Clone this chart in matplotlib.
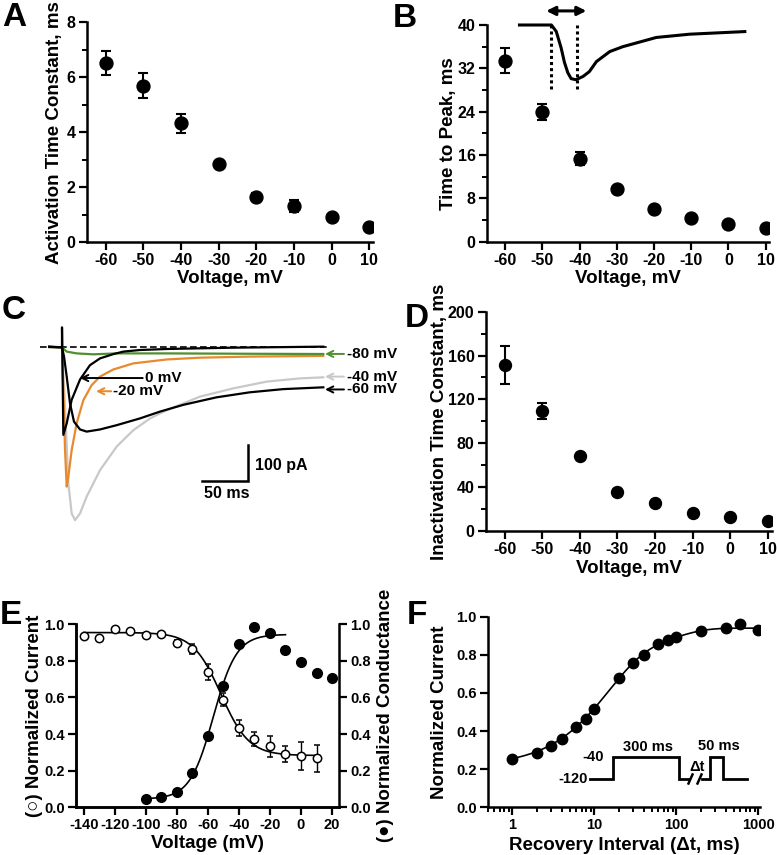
import matplotlib
matplotlib.use('Agg')
import numpy as np
import matplotlib.pyplot as plt
from matplotlib.ticker import MultipleLocator, LogLocator, NullFormatter, FixedLocator, FormatStrFormatter

plt.rcParams.update({
    'font.family': ['Liberation Sans', 'DejaVu Sans'],
    'font.weight': 'bold',
    'axes.labelweight': 'bold',
    'axes.linewidth': 1.8,
    'axes.unicode_minus': False,
})

# ---- data ----
volt = [-60, -50, -40, -30, -20, -10, 0, 10]
act_tau = [6.52, 5.70, 4.33, 2.84, 1.66, 1.32, 0.91, 0.57]
act_tau_err = [0.42, 0.46, 0.34, 0.12, 0.12, 0.22, 0.08, 0.06]
time_to_peak = [33.4, 23.9, 15.3, 9.75, 5.95, 4.42, 3.31, 2.58]
time_to_peak_err = [2.3, 1.5, 1.2, 0.4, 0.3, 0.3, 0.3, 0.2]
inact_tau = [151.5, 109.3, 68.1, 36.0, 25.3, 16.2, 13.1, 9.2]
inact_tau_err = [17.5, 7.3, 2.5, 1.5, 1.5, 1.2, 1.0, 1.0]

# schematic current trace in B (voltage-axis units)
b_trace_x = [-56.6, -47.6, -46.3, -45.0, -44.1, -43.2, -42.3, -41.0, -39.1, -37.4,
             -35.5, -31.9, -28.4, -19.4, -10.5, 4.8]
b_trace_y = [40, 40, 38.8, 35.8, 33.1, 31.2, 30.1, 29.9, 30.5, 31.4,
             33.25, 35.1, 36.0, 37.7, 38.3, 38.8]

# current traces in C (ms, pA)
tr_0mv_t = [-14, 0, 0, 1.45, 5.1, 10.5, 19.6, 30.4, 41.3, 55.8, 66.7, 84.8, 113.8, 150, 186, 284]
tr_0mv_i = [2, 0, 56, -245, -213, -147, -90, -50, -31, -19, -12, -7.5, -4.7, -2.8, -1, 1.9]
tr_20mv_t = [-14, 0, 1.45, 3.3, 5.1, 6.9, 10.5, 15.9, 23.2, 32.2, 41.3, 55.8, 77.5, 113.8, 150, 204, 284]
tr_20mv_i = [1, 0, -120, -288, -390, -362, -288, -213, -148, -106, -82, -62, -45, -34, -29, -26, -24]
tr_40mv_t = [-14, 0, 3.3, 6.9, 10.5, 14.1, 19.6, 26.8, 41.3, 59.4, 77.5, 95.7, 113.8, 150, 186, 222.5, 258.7, 284]
tr_40mv_i = [1, 0, -166, -381, -465, -484, -465, -418, -344, -278, -232, -199, -176, -138, -115, -96, -87, -84]
tr_60mv_t = [-14, 0, 2.2, 5.1, 8.7, 13, 19.6, 26.8, 41.3, 59.4, 84.8, 106.5, 131.9, 168, 204, 240.6, 284]
tr_60mv_i = [1, 0, -26, -82, -157, -208, -230, -236, -230, -218, -199, -180, -161, -140, -126, -117, -112]
tr_80mv_t = [-14, 0, 5.1, 15.9, 34, 59.4, 113.8, 200, 284]
tr_80mv_i = [1, 0, -12, -17, -19.6, -17, -17, -18, -18.7]

# E: steady-state inactivation and activation
volt_inact = [-140, -130, -120, -110, -100, -90, -80, -70, -60, -50, -40, -30, -20, -10, 0, 10]
inact = [0.934, 0.925, 0.973, 0.962, 0.944, 0.949, 0.900, 0.865, 0.74, 0.589, 0.434,
         0.373, 0.334, 0.291, 0.280, 0.267]
inact_err = [0, 0, 0, 0, 0.01, 0.01, 0.015, 0.03, 0.044, 0.035, 0.045, 0.038, 0.058,
             0.045, 0.075, 0.075]
volt_act = [-100, -90, -80, -70, -60, -50, -40, -30, -20, -10, 0, 10, 20]
act = [0.044, 0.055, 0.085, 0.189, 0.389, 0.663, 0.895, 0.985, 0.953, 0.862, 0.794, 0.736, 0.704]
# Boltzmann fit parameters
inact_fit = dict(top=0.955, bottom=0.283, vhalf=-51.6, k=9.0)
act_fit = dict(top=0.945, bottom=0.045, vhalf=-56.5, k=7.5)

# F: recovery from inactivation
recovery_t = [1, 2, 3, 4, 6, 8, 10, 20, 30, 40, 60, 80, 100, 200, 400, 600, 1000]
recovery = [0.252, 0.287, 0.322, 0.357, 0.42, 0.463, 0.514, 0.677, 0.755, 0.80, 0.857,
            0.878, 0.892, 0.927, 0.939, 0.962, 0.93]
# double exponential fit
rec_fit = dict(a=0.94, b1=0.558, tau1=14.0, b2=0.167, tau2=80.0)

W, H = 777, 855
fig = plt.figure(figsize=(W / 100, H / 100), dpi=100)


def px_axes(box):
    l, t, r, b = box
    return fig.add_axes([l / W, 1 - b / H, (r - l) / W, (b - t) / H])


def prism(ax, size=11.5):
    ax.spines['top'].set_visible(False)
    ax.spines['right'].set_visible(False)
    ax.tick_params(direction='out', length=6, width=1.6, labelsize=size, pad=2)
    ax.tick_params(which='minor', direction='out', length=3.5, width=1.4)


def labels(ax, box, xlab, ylab, xlab_y, ylab_x, size=13.5):
    l, t, r, b = box
    ax.set_xlabel(xlab, fontsize=size, va='center')
    ax.xaxis.set_label_coords(0.5, (b - xlab_y) / (b - t))
    ax.set_ylabel(ylab, fontsize=size, va='center')
    ax.yaxis.set_label_coords((ylab_x - l) / (r - l), 0.5)


def panel(letter, x, y):
    fig.text(x / W, 1 - y / H, letter, fontsize=24, fontweight='bold', ha='left', va='top')


ebar = dict(fmt='o', color='black', ecolor='black', elinewidth=1.5, capsize=3.5, capthick=1.5)

# ---- A ----
boxA = (86.7, 22.3, 373.2, 242.3)
axA = px_axes(boxA)
axA.errorbar(volt, act_tau, yerr=act_tau_err, ms=9.3, **ebar)
axA.set_xlim(-65, 11)
axA.set_ylim(0, 8)
axA.xaxis.set_major_locator(FixedLocator(volt))
axA.yaxis.set_major_locator(MultipleLocator(2))
axA.yaxis.set_minor_locator(MultipleLocator(1))
prism(axA)
labels(axA, boxA, 'Voltage, mV', 'Activation Time Constant, ms', 278, 54.5)

# ---- B ----
boxB = (486.7, 25, 769.4, 241.7)
axB = px_axes(boxB)
axB.errorbar(volt, time_to_peak, yerr=time_to_peak_err, ms=9.3, **ebar)
axB.plot(b_trace_x, b_trace_y, color='black', lw=2.2, clip_on=False, solid_capstyle='butt')
for xv in (-47.6, -40.8):
    axB.plot([xv, xv], [28.1, 40], color='black', lw=2.2, ls=(0, (1, 1)), clip_on=False)
axB.annotate('', xy=(-49.0, 42.6), xytext=(-38.2, 42.6), xycoords='data',
             annotation_clip=False,
             arrowprops=dict(arrowstyle='<|-|>', color='black', lw=2.2,
                             mutation_scale=13, shrinkA=0, shrinkB=0))
axB.set_xlim(-65, 11)
axB.set_ylim(0, 40)
axB.xaxis.set_major_locator(FixedLocator(volt))
axB.yaxis.set_major_locator(MultipleLocator(8))
axB.yaxis.set_minor_locator(MultipleLocator(4))
prism(axB)
labels(axB, boxB, 'Voltage, mV', 'Time to Peak, ms', 278, 449)

# ---- C ----
axC = px_axes((0, 290, 390, 550))
axC.set_xlim(-67.4, 356.5)
axC.set_ylim(-567.5, 160.5)
axC.axis('off')
axC.plot([-24, 288], [0, 0], color='black', lw=1.2, ls=(0, (4, 2)), zorder=1)
axC.plot(tr_40mv_t, tr_40mv_i, color='#c8c8c8', lw=1.6, zorder=2)
axC.plot(tr_20mv_t, tr_20mv_i, color='#e8892e', lw=1.6, zorder=3)
axC.plot(tr_80mv_t, tr_80mv_i, color='#4f8f2f', lw=1.6, zorder=4)
axC.plot(tr_60mv_t, tr_60mv_i, color='black', lw=1.6, zorder=5)
axC.plot(tr_0mv_t, tr_0mv_i, color='black', lw=1.6, zorder=6)
# scale bar
axC.plot([152.5, 202.5, 202.5], [-373.7, -373.7, -273.7], color='black', lw=1.8,
         solid_joinstyle='miter')
axC.text(209.8, -329.6, '100 pA', fontsize=11.5, ha='left', va='center')
axC.text(179, -409, '50 ms', fontsize=11.5, ha='center', va='center')

c_labels = [
    ('-80 mV', '#4f8f2f', 309.4, 306.5, 285.9, -18.5),
    ('-40 mV', '#c8c8c8', 309.4, 306.5, 285.9, -82),
    ('-60 mV', 'black', 309.4, 306.5, 285.9, -118),
    ('0 mV', 'black', 90.2, 87.7, 19.6, -86),
    ('-20 mV', '#e8892e', 55.8, 53.5, 37.0, -123),
]
for txt, col, tx, x0, x1, yv in c_labels:
    axC.annotate('', xy=(x1, yv), xytext=(x0, yv),
                 arrowprops=dict(arrowstyle='->', color=col, lw=1.4,
                                 mutation_scale=11, shrinkA=0, shrinkB=0))
    axC.text(tx, yv, txt, fontsize=11, ha='left', va='center', color='black')

# ---- D ----
boxD = (485.7, 311.7, 771.5, 531)
axD = px_axes(boxD)
axD.errorbar(volt, inact_tau, yerr=inact_tau_err, ms=8.6, **ebar)
axD.set_xlim(-65, 11)
axD.set_ylim(0, 200)
axD.xaxis.set_major_locator(FixedLocator(volt))
axD.yaxis.set_major_locator(MultipleLocator(40))
axD.yaxis.set_minor_locator(MultipleLocator(20))
prism(axD)
labels(axD, boxD, 'Voltage, mV', 'Inactivation Time Constant, ms', 568, 439)

# ---- E ----
boxE = (76, 624.3, 339, 807.3)
axE = px_axes(boxE)
v_in = np.linspace(volt_inact[0], volt_inact[-1], 300)
p = inact_fit
axE.plot(v_in, p['bottom'] + (p['top'] - p['bottom']) / (1 + np.exp((v_in - p['vhalf']) / p['k'])),
         color='black', lw=1.2, zorder=2)
v_ac = np.linspace(-100, -10, 300)
p = act_fit
axE.plot(v_ac, p['bottom'] + (p['top'] - p['bottom']) / (1 + np.exp((p['vhalf'] - v_ac) / p['k'])),
         color='black', lw=1.2, zorder=2)
axE.errorbar(volt_inact, inact, yerr=inact_err, fmt='o', ms=6, mfc='white', mec='black',
             mew=1.1, ecolor='black', elinewidth=1.0, capsize=2.5, capthick=1.0, zorder=3)
axE.plot(volt_act, act, 'o', ms=7, color='black', zorder=4, clip_on=False)
axE.set_xlim(-145, 24.5)
axE.set_ylim(0, 1)
axE.xaxis.set_major_locator(MultipleLocator(20))
axE.yaxis.set_major_locator(MultipleLocator(0.2))
axE.yaxis.set_major_formatter(FormatStrFormatter('%.1f'))
prism(axE, size=10.5)
labels(axE, boxE, 'Voltage (mV)', '(\u25CB) Normalized Current', 843, 35)
axE2 = axE.twinx()
axE2.set_ylim(0, 1)
axE2.spines['top'].set_visible(False)
axE2.yaxis.set_major_locator(MultipleLocator(0.2))
axE2.yaxis.set_major_formatter(FormatStrFormatter('%.1f'))
axE2.tick_params(direction='out', length=6, width=1.6, labelsize=10.5, pad=2)
axE2.set_ylabel('(\u25CF) Normalized Conductance', fontsize=13.5, va='center')
axE2.yaxis.set_label_coords((385 - boxE[0]) / (boxE[2] - boxE[0]), 0.5)

# ---- F ----
boxF = (487.7, 616.7, 760, 807.3)
axF = px_axes(boxF)
t_fit = np.logspace(0, 3, 400)
p = rec_fit
axF.plot(t_fit, p['a'] - p['b1'] * np.exp(-t_fit / p['tau1']) - p['b2'] * np.exp(-t_fit / p['tau2']),
         color='black', lw=1.2, zorder=2)
axF.plot(recovery_t, recovery, 'o', ms=7.5, color='black', zorder=3)
axF.set_xscale('log')
axF.set_xlim(0.5, 1050)
axF.set_ylim(0, 1)
axF.xaxis.set_major_locator(FixedLocator([1, 10, 100, 1000]))
axF.xaxis.set_major_formatter(FormatStrFormatter('%d'))
axF.xaxis.set_minor_locator(LogLocator(base=10, subs=np.arange(2, 10), numticks=20))
axF.xaxis.set_minor_formatter(NullFormatter())
axF.yaxis.set_major_locator(MultipleLocator(0.2))
axF.yaxis.set_major_formatter(FormatStrFormatter('%.1f'))
prism(axF, size=10.5)
labels(axF, boxF, 'Recovery Interval (\u0394t, ms)', 'Normalized Current', 845, 440)

# pulse protocol inset of F (figure pixel coordinates)
ov = fig.add_axes([0, 0, 1, 1], facecolor='none')
ov.set_xlim(0, W)
ov.set_ylim(H, 0)
ov.axis('off')
ov.plot([590, 612.7, 612.7, 679, 679, 688.5], [779, 779, 757.3, 757.3, 779, 779],
        color='black', lw=2, solid_joinstyle='miter')
ov.plot([701.5, 710, 710, 723.3, 723.3, 746.7], [779, 779, 757.3, 757.3, 779, 779],
        color='black', lw=2, solid_joinstyle='miter')
ov.plot([688.5, 692.5], [783.5, 774.5], color='black', lw=1.8)
ov.plot([697.5, 701.5], [783.5, 774.5], color='black', lw=1.8)
ov.text(588, 779, '-120', fontsize=10.5, ha='right', va='center')
ov.text(604, 757, '-40', fontsize=10.5, ha='right', va='center')
ov.text(648, 746.7, '300 ms', fontsize=10.5, ha='center', va='center')
ov.text(697.5, 766.7, '\u0394t', fontsize=10.5, ha='center', va='center')
ov.text(719.3, 746, '50 ms', fontsize=10.5, ha='center', va='center')

for letter, x, y in [('A', 2, 2), ('B', 393, 3), ('C', 2, 295), ('D', 405, 303),
                     ('E', 0, 600), ('F', 407, 600)]:
    panel(letter, x, y)

fig.savefig('out.png', dpi=100)
